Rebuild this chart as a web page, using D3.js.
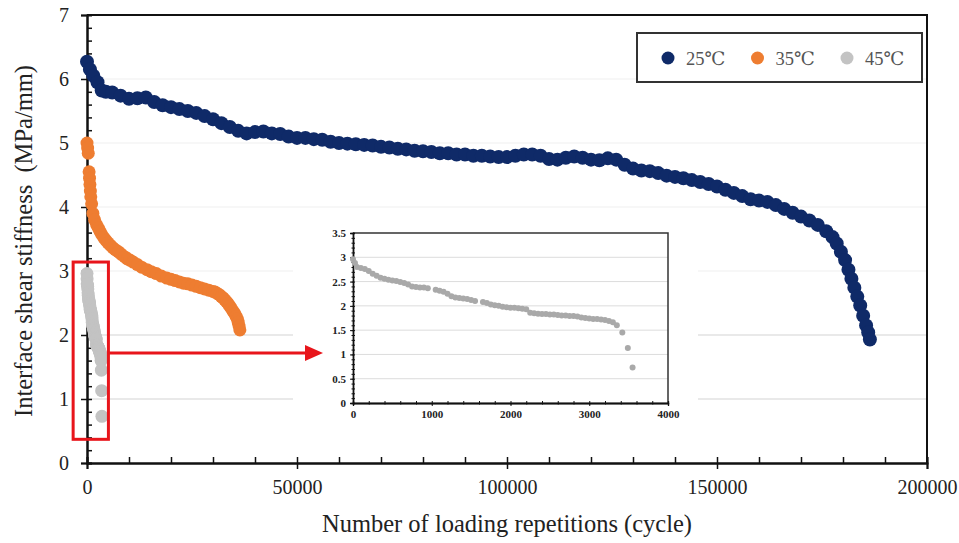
<!DOCTYPE html>
<html>
<head>
<meta charset="utf-8">
<script src="https://cdn.jsdelivr.net/npm/d3@7"></script>
<style>
  body { margin: 0; background: #fff; }
  svg text { font-family: "Liberation Serif", "DejaVu Serif", serif; }
</style>
</head>
<body>
<div id="chart"></div>
<script>
const width = 959
const height = 543

// ---- data ----
const seriesNames = ["25℃", "35℃", "45℃"]
const seriesColors = ["#0f2a68", "#ee7d31", "#c3c3c3"]

const cycles25 = [0,700,1500,2500,3500,4500,6000,8000,10000,12000,14000,16000,18000,20000,22000,24000,26000,28000,30000,32000,34000,36000,38000,40000,42000,44000,46000,48000,50000,52000,54000,56000,58000,60000,62000,64000,66000,68000,70000,72000,74000,76000,78000,80000,82000,84000,86000,88000,90000,92000,94000,96000,98000,100000,102000,104000,106000,108000,110000,112000,114000,116000,118000,120000,122000,124000,126000,128000,130000,132000,134000,136000,138000,140000,142000,144000,146000,148000,150000,152000,154000,156000,158000,160000,162000,164000,166000,168000,170000,172000,174000,176000,177500,178500,179500,180500,181300,182000,182700,183400,184100,184800,185500,186000,186400]
const stiff25 = [6.27,6.15,6.05,5.95,5.82,5.80,5.79,5.74,5.69,5.70,5.71,5.64,5.59,5.56,5.53,5.50,5.47,5.42,5.37,5.31,5.25,5.19,5.15,5.17,5.18,5.15,5.14,5.10,5.08,5.08,5.06,5.05,5.02,5.00,4.99,4.98,4.97,4.96,4.94,4.93,4.91,4.90,4.88,4.87,4.86,4.84,4.84,4.82,4.82,4.80,4.80,4.79,4.78,4.78,4.80,4.82,4.82,4.80,4.75,4.74,4.77,4.79,4.77,4.74,4.73,4.76,4.74,4.66,4.60,4.57,4.56,4.53,4.49,4.47,4.45,4.42,4.39,4.36,4.32,4.27,4.22,4.17,4.12,4.10,4.08,4.03,3.97,3.91,3.85,3.79,3.72,3.62,3.53,3.43,3.30,3.17,3.02,2.88,2.74,2.60,2.46,2.30,2.15,2.04,1.93]

const cycles35 = [0,150,300,500,600,700,800,900,1100,1400,1800,2300,2700,3100,3500,4000,4500,5000,5600,6200,6800,7500,8200,9000,9600,10200,11000,12000,13000,14300,15300,16500,17700,19000,20000,21000,22000,23000,24000,25000,26000,27000,28000,29000,30000,30500,31000,31500,32000,32400,32800,33200,33600,34000,34400,34800,35200,35500,35800,36000,36200,36400]
const stiff35 = [5.00,4.92,4.84,4.55,4.45,4.35,4.25,4.16,4.05,3.90,3.80,3.72,3.67,3.62,3.57,3.52,3.48,3.44,3.40,3.36,3.33,3.30,3.26,3.22,3.19,3.17,3.14,3.10,3.06,3.02,2.99,2.96,2.92,2.89,2.87,2.85,2.83,2.81,2.80,2.78,2.76,2.74,2.72,2.70,2.68,2.67,2.65,2.63,2.60,2.58,2.55,2.52,2.49,2.45,2.41,2.37,2.33,2.29,2.25,2.20,2.14,2.08]

const cycles45 = [0,25,50,100,150,200,250,300,350,400,450,500,550,600,650,700,750,800,850,900,950,1050,1100,1150,1200,1250,1300,1350,1400,1450,1500,1550,1650,1700,1750,1800,1850,1900,1950,2000,2050,2100,2150,2200,2250,2300,2350,2400,2450,2500,2550,2600,2650,2700,2750,2800,2850,2900,2950,3000,3050,3100,3150,3200,3250,3300,3350,3420,3490,3550]
const stiff45 = [2.96,2.88,2.80,2.78,2.76,2.72,2.66,2.62,2.58,2.56,2.54,2.52,2.51,2.49,2.47,2.44,2.40,2.39,2.38,2.38,2.36,2.33,2.31,2.29,2.25,2.20,2.17,2.16,2.15,2.14,2.12,2.10,2.08,2.06,2.03,2.01,2.00,1.98,1.97,1.96,1.96,1.95,1.94,1.93,1.86,1.85,1.84,1.83,1.83,1.82,1.82,1.81,1.80,1.80,1.79,1.79,1.78,1.76,1.75,1.74,1.73,1.73,1.72,1.71,1.69,1.66,1.60,1.45,1.13,0.73]

const xTicks = [0, 50000, 100000, 150000, 200000]
const yTicks = [0, 1, 2, 3, 4, 5, 6, 7]
const insetXTicks = [0, 1000, 2000, 3000, 4000]
const insetYTicks = [0, 0.5, 1, 1.5, 2, 2.5, 3, 3.5]

const zip = (xs, ys) => xs.map((c, i) => ({c: c, v: ys[i]}))
const data25 = zip(cycles25, stiff25)
const data35 = zip(cycles35, stiff35)
const data45 = zip(cycles45, stiff45)

const svg = d3.select("#chart").append("svg").attr("width", width).attr("height", height)

// ---- main chart ----
const margin = {left: 87, right: 32, top: 15, bottom: 80}
const x = d3.scaleLinear().domain([0, 200000]).range([margin.left, width - margin.right])
const y = d3.scaleLinear().domain([0, 7]).range([height - margin.bottom, margin.top])

// faint gridlines
const grid = svg.append("g")
grid.selectAll("line")
  .data(yTicks.filter(d => d > 0 && d < 7))
  .join("line")
    .attr("x1", x(0)).attr("x2", x(200000))
    .attr("y1", d => y(d)).attr("y2", d => y(d))
    .attr("stroke", d => d <= 2 ? "#d4d4d4" : "#f0f0f0")
    .attr("stroke-width", 1.2)

// frame (top + right)
svg.append("path")
  .attr("d", `M${x(0)},${y(7)}H${x(200000)}V${y(0)}`)
  .attr("fill", "none").attr("stroke", "#111").attr("stroke-width", 2)

// x axis: labels + outward major ticks, inward minor ticks
const xAxisG = svg.append("g").attr("transform", `translate(0,${y(0)})`)
xAxisG.call(d3.axisBottom(x).tickValues(xTicks).tickSize(6).tickPadding(11).tickFormat(d3.format("d")))
xAxisG.append("g").call(d3.axisTop(x).tickValues(d3.range(0, 200001, 10000)).tickSize(6).tickFormat(""))

// y axis: labels + outward major ticks, inward minor ticks
const yAxisG = svg.append("g").attr("transform", `translate(${x(0)},0)`)
yAxisG.call(d3.axisLeft(y).tickValues(yTicks).tickSize(6).tickPadding(12).tickFormat(d3.format("d")))
yAxisG.append("g").call(d3.axisRight(y).tickValues(d3.range(0, 35).map(i => i * 0.2)).tickSize(5).tickFormat(""))

svg.selectAll(".domain").attr("stroke", "#111").attr("stroke-width", 2)
svg.selectAll(".tick line").attr("stroke", "#111").attr("stroke-width", 1.5)
svg.selectAll(".tick text").attr("font-size", 20).attr("fill", "#222")

// axis titles
svg.append("text")
  .attr("x", x(100000)).attr("y", 532)
  .attr("text-anchor", "middle").attr("font-size", 24.5).attr("fill", "#222")
  .text("Number of loading repetitions (cycle)")
svg.append("text")
  .attr("transform", `translate(32,${y(3.5) + 2}) rotate(-90)`)
  .attr("text-anchor", "middle").attr("font-size", 24.5).attr("fill", "#222")
  .attr("xml:space", "preserve")
  .text("Interface shear stiffness  (MPa/mm)")

// data marks
const marks = svg.append("g")
const drawSeries = (data, color, r) => {
  marks.append("g").selectAll("circle")
    .data(data)
    .join("circle")
      .attr("cx", d => x(d.c))
      .attr("cy", d => y(d.v))
      .attr("r", r)
      .attr("fill", color)
}
drawSeries(data25, seriesColors[0], 7)
drawSeries(data35, seriesColors[1], 6.5)
drawSeries(data45, seriesColors[2], 6.5)

// legend
const legend = svg.append("g")
legend.append("rect")
  .attr("x", 637).attr("y", 33).attr("width", 285).attr("height", 49)
  .attr("fill", "#fff").attr("stroke", "#333").attr("stroke-width", 2)
const legendX = d3.scalePoint().domain(seriesNames).range([668, 847])
const item = legend.selectAll("g.item").data(seriesNames).join("g").attr("class", "item")
  .attr("transform", d => `translate(${legendX(d)},58)`)
item.append("circle").attr("r", 6.5).attr("fill", (d, i) => seriesColors[i])
item.append("text").attr("x", 18).attr("y", 6.5).attr("font-size", 18.5).attr("fill", "#555").text(d => d)

// red highlight box
const boxC = [-3300, 5100]
const boxV = [0.37, 3.14]
svg.append("rect")
  .attr("x", x(boxC[0])).attr("y", y(boxV[1]))
  .attr("width", x(boxC[1]) - x(boxC[0])).attr("height", y(boxV[0]) - y(boxV[1]))
  .attr("fill", "none").attr("stroke", "#e8151b").attr("stroke-width", 3)

// ---- inset ----
const inset = {left: 353, right: 668, top: 233, bottom: 403}
svg.append("rect")
  .attr("x", 293).attr("y", 214).attr("width", 405).attr("height", 212).attr("fill", "#fff")

const arrowY = y(1.72)
svg.append("line")
  .attr("x1", x(boxC[1])).attr("x2", 309).attr("y1", arrowY).attr("y2", arrowY)
  .attr("stroke", "#e8151b").attr("stroke-width", 3)
svg.append("path")
  .attr("d", `M305,${arrowY - 8}L323,${arrowY}L305,${arrowY + 8}Z`)
  .attr("fill", "#e8151b")

const xi = d3.scaleLinear().domain([0, 4000]).range([inset.left, inset.right])
const yi = d3.scaleLinear().domain([0, 3.5]).range([inset.bottom, inset.top])

const ig = svg.append("g")
ig.selectAll("line.grid")
  .data(insetYTicks.filter(d => d > 0 && d < 3.5))
  .join("line").attr("class", "grid")
    .attr("x1", xi(0)).attr("x2", xi(4000))
    .attr("y1", d => yi(d)).attr("y2", d => yi(d))
    .attr("stroke", "#dcdcdc").attr("stroke-width", 1)
ig.append("path")
  .attr("d", `M${xi(0)},${yi(3.5)}H${xi(4000)}V${yi(0)}`)
  .attr("fill", "none").attr("stroke", "#333").attr("stroke-width", 1.5)

const ixAxis = ig.append("g").attr("transform", `translate(0,${yi(0)})`)
ixAxis.call(d3.axisBottom(xi).tickValues(insetXTicks).tickSize(3).tickPadding(4).tickFormat(d3.format("d")))
ixAxis.append("g").call(d3.axisTop(xi).tickValues(d3.range(0, 4001, 200)).tickSize(2).tickFormat(""))
ixAxis.append("g").call(d3.axisBottom(xi).tickValues(d3.range(0, 4001, 200)).tickSize(1.5).tickFormat(""))

const iyAxis = ig.append("g").attr("transform", `translate(${xi(0)},0)`)
iyAxis.call(d3.axisLeft(yi).tickValues(insetYTicks).tickSize(3).tickPadding(4).tickFormat(d => d3.format("~g")(d)))
iyAxis.append("g").call(d3.axisRight(yi).tickValues(d3.range(0, 36).map(i => i * 0.1)).tickSize(2).tickFormat(""))
iyAxis.append("g").call(d3.axisLeft(yi).tickValues(d3.range(0, 36).map(i => i * 0.1)).tickSize(1.5).tickFormat(""))

ig.selectAll(".domain").attr("stroke", "#111").attr("stroke-width", 1.3)
ig.selectAll(".tick line").attr("stroke", "#111").attr("stroke-width", 1)
ig.selectAll(".tick text").attr("font-size", 11).attr("font-weight", "bold").attr("fill", "#222")

ig.append("g").selectAll("circle")
  .data(data45)
  .join("circle")
    .attr("cx", d => xi(d.c))
    .attr("cy", d => yi(d.v))
    .attr("r", 3)
    .attr("fill", "#a9a9a9")
</script>
</body>
</html>
